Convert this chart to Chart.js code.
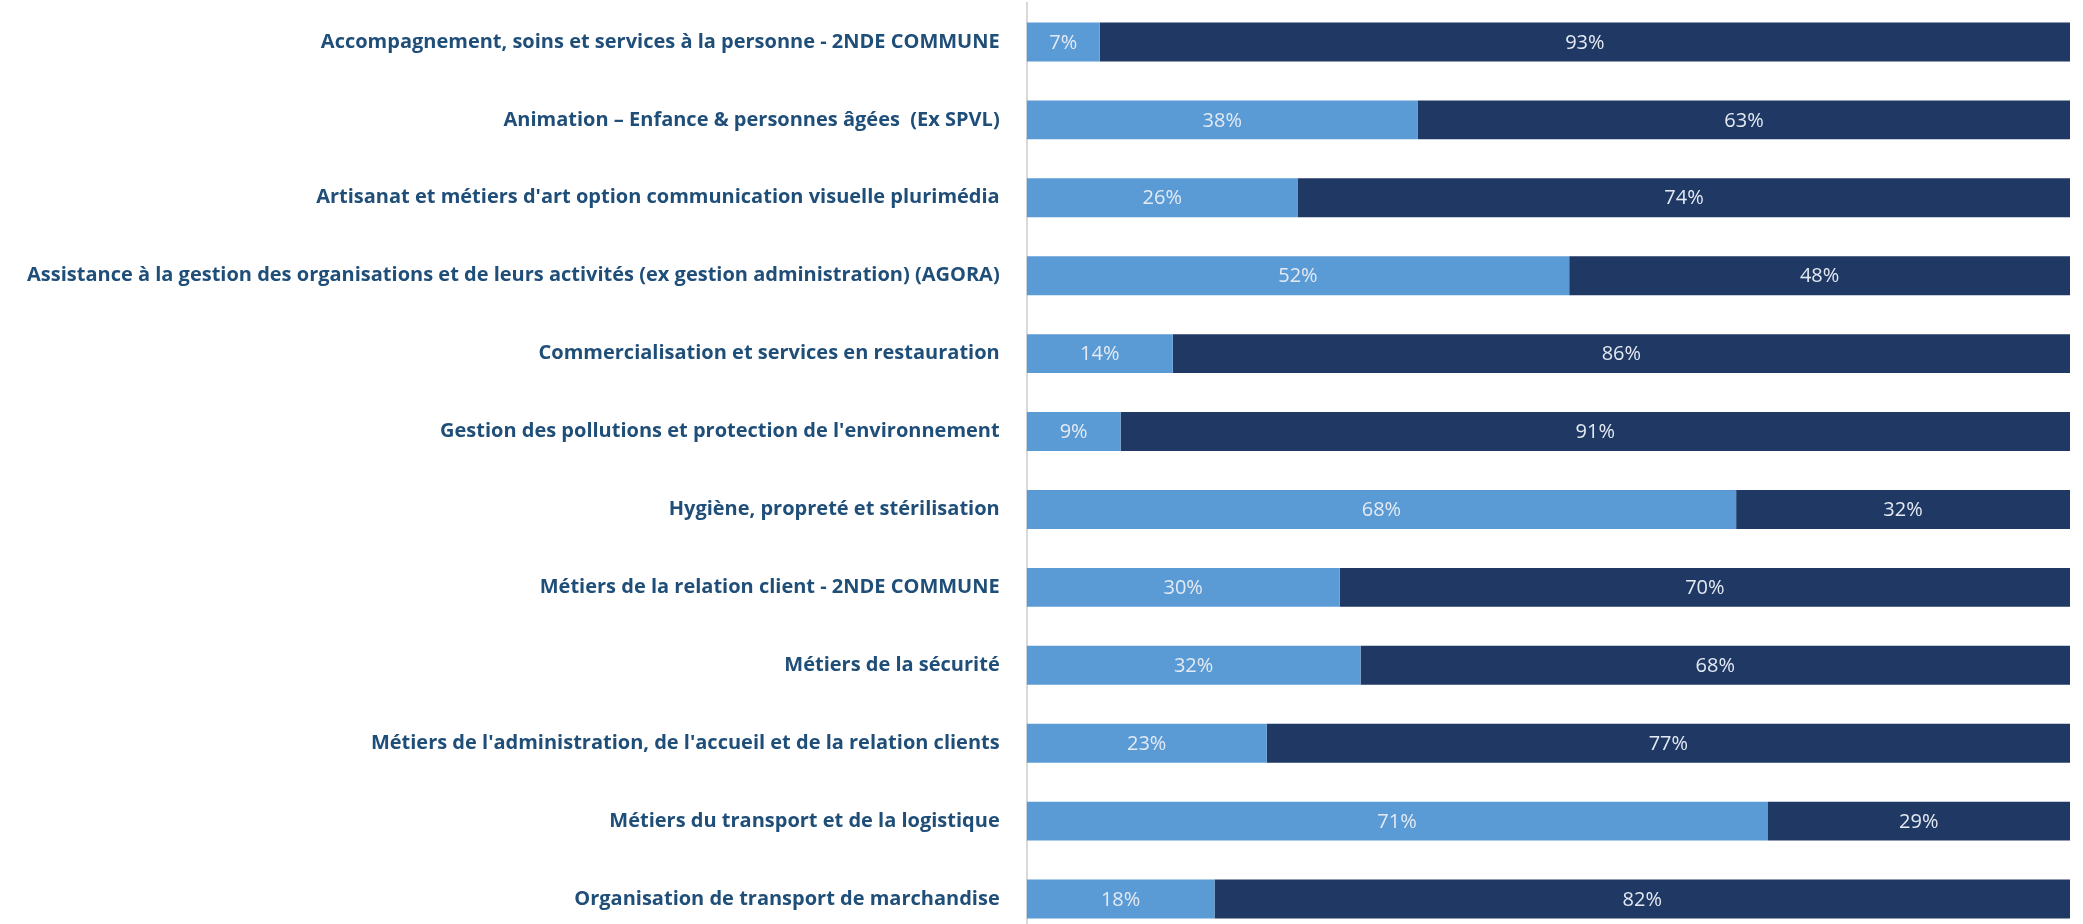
<!DOCTYPE html>
<html>
<head>
<meta charset="utf-8">
<script src="https://cdn.jsdelivr.net/npm/chart.js@4.4.1/dist/chart.umd.min.js"></script>
<style>
  html, body { margin: 0; padding: 0; background: #fff; overflow: hidden; }
  #wrap { position: relative; width: 2083px; height: 938px; }
</style>
</head>
<body>
<div id="wrap"><canvas id="chart"></canvas></div>
<script>
// categories (formations)
const categories = [
    'Accompagnement, soins et services à la personne - 2NDE COMMUNE',
    'Animation \u2013 Enfance & personnes âgées  (Ex SPVL)',
    "Artisanat et métiers d'art option communication visuelle plurimédia",
    'Assistance à la gestion des organisations et de leurs activités (ex gestion administration) (AGORA)',
    'Commercialisation et services en restauration',
    "Gestion des pollutions et protection de l'environnement",
    'Hygiène, propreté et stérilisation',
    'Métiers de la relation client - 2NDE COMMUNE',
    'Métiers de la sécurité',
    "Métiers de l'administration, de l'accueil et de la relation clients",
    'Métiers du transport et de la logistique',
    'Organisation de transport de marchandise'
];

// parts en % (segment clair / segment foncé)
const lightValues = [7, 37.5, 26, 52, 14, 9, 68, 30, 32, 23, 71, 18];
const darkValues = [93, 62.5, 74, 48, 86, 91, 32, 70, 68, 77, 29, 82];

// texte des pourcentages dans les barres
const valueLabels = {
    id: 'valueLabels',
    afterDatasetsDraw(chart) {
        const ctx = chart.ctx;
        ctx.save();
        ctx.font = '20px "Open Sans", sans-serif';
        ctx.fillStyle = '#E3EAF3';
        ctx.textAlign = 'center';
        ctx.textBaseline = 'middle';
        chart.data.datasets.forEach((ds, i) => {
            const meta = chart.getDatasetMeta(i);
            meta.data.forEach((bar, j) => {
                const x = (bar.x + bar.base) / 2;
                ctx.fillText(Math.round(ds.data[j]) + '%', x, bar.y + 1);
            });
        });
        ctx.restore();
    }
};

const ctx = document.getElementById('chart');

new Chart(ctx, {
    type: 'bar',
    data: {
        labels: categories,
        datasets: [
            {
                label: 'Part 1',
                data: lightValues,
                backgroundColor: '#5B9BD5',
                categoryPercentage: 1,
                barPercentage: 0.5
            },
            {
                label: 'Part 2',
                data: darkValues,
                backgroundColor: '#1F3864',
                categoryPercentage: 1,
                barPercentage: 0.5
            }
        ]
    },
    options: {
        indexAxis: 'y',
        responsive: true,
        maintainAspectRatio: false,
        animation: false,
        layout: {
            padding: { top: 3, right: 13, bottom: 0, left: 0 }
        },
        plugins: {
            legend: { display: false },
            tooltip: { enabled: false }
        },
        scales: {
            x: {
                stacked: true,
                min: 0,
                max: 100,
                display: false
            },
            y: {
                stacked: true,
                grid: { display: false, drawTicks: false },
                border: { display: true, color: '#D9D9D9', width: 2 },
                ticks: {
                    padding: 27,
                    color: '#1F4E79',
                    font: { family: '"Open Sans", sans-serif', size: 20, weight: 'bold' }
                },
                // pas de marge verticale réservée pour les libellés
                afterFit(scale) {
                    scale.paddingTop = 0;
                    scale.paddingBottom = 0;
                }
            }
        }
    },
    plugins: [valueLabels]
});
</script>
</body>
</html>
